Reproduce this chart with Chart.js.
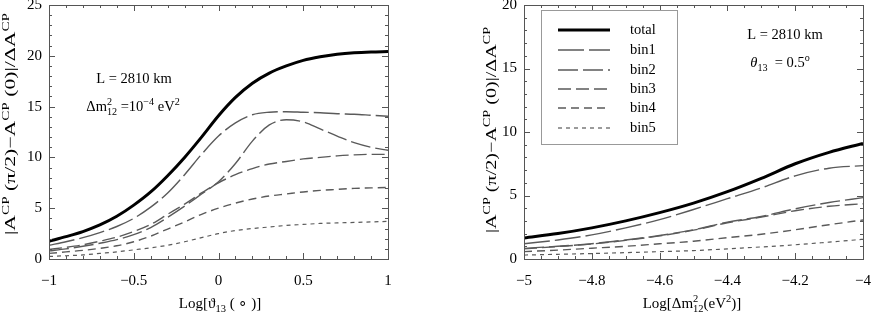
<!DOCTYPE html>
<html>
<head>
<meta charset="utf-8">
<script src="https://cdn.jsdelivr.net/npm/chart.js@4.4.1/dist/chart.umd.min.js"></script>
<style>
  html, body { margin: 0; padding: 0; background: #fff; }
  #wrap { position: relative; width: 872px; height: 315px; }
  canvas { position: absolute; top: 0; }
  #left { left: 0; }
  #right { left: 430px; }
</style>
</head>
<body>
<div id="wrap">
  <canvas id="left" width="430" height="315"></canvas>
  <canvas id="right" width="442" height="315"></canvas>
</div>
<script>
/* ===== Data ===== */

var seriesLabels = ['total', 'bin1', 'bin2', 'bin3', 'bin4', 'bin5'];

// left panel: Log[theta13]
var thetaLog = [-1, -0.9, -0.8, -0.7, -0.6, -0.5, -0.4, -0.3, -0.2, -0.1, 0,
                0.1, 0.2, 0.3, 0.4, 0.5, 0.6, 0.7, 0.8, 0.9, 1];
var totalA = [1.75, 2.2, 2.7, 3.35, 4.2, 5.3, 6.6, 8.2, 10.0, 12.0, 14.1,
              15.9, 17.3, 18.3, 19.0, 19.55, 19.9, 20.15, 20.3, 20.38, 20.42];
var bin1A = [1.35, 1.7, 2.1, 2.6, 3.2, 4.0, 5.1, 6.5, 8.3, 10.3, 12.1,
             13.4, 14.2, 14.45, 14.5, 14.45, 14.4, 14.3, 14.25, 14.15, 14.05];
var bin2A = [0.8, 1.0, 1.25, 1.55, 1.9, 2.4, 3.1, 4.1, 5.2, 6.4, 7.6,
             9.4, 11.6, 13.2, 13.7, 13.5, 12.8, 12.1, 11.45, 11.0, 10.7];
var bin3A = [0.95, 1.15, 1.4, 1.75, 2.15, 2.7, 3.4, 4.4, 5.4, 6.5, 7.5,
             8.3, 8.9, 9.35, 9.6, 9.85, 10.0, 10.15, 10.25, 10.3, 10.3];
var bin4A = [0.55, 0.7, 0.85, 1.05, 1.3, 1.7, 2.25, 2.95, 3.65, 4.4, 5.0,
             5.5, 5.9, 6.2, 6.4, 6.6, 6.75, 6.85, 6.95, 7.0, 7.05];
var bin5A = [0.25, 0.32, 0.4, 0.55, 0.7, 0.9, 1.1, 1.35, 1.7, 2.1, 2.5,
             2.8, 3.0, 3.15, 3.3, 3.4, 3.5, 3.55, 3.6, 3.65, 3.7];

// right panel: Log[dm12^2]
var dmLog = [-5, -4.9, -4.8, -4.7, -4.6, -4.5, -4.4, -4.3, -4.2, -4.1, -4];
var totalB = [1.65, 2.0, 2.45, 3.0, 3.65, 4.4, 5.3, 6.35, 7.5, 8.4, 9.1];
var bin1B = [1.2, 1.5, 1.9, 2.45, 3.1, 3.9, 4.75, 5.6, 6.55, 7.15, 7.35];
var bin2B = [0.84, 1.0, 1.2, 1.5, 1.85, 2.3, 2.9, 3.35, 3.95, 4.45, 4.83];
var bin3B = [0.8, 0.98, 1.18, 1.47, 1.82, 2.27, 2.85, 3.3, 3.8, 4.15, 4.35];
var bin4B = [0.58, 0.7, 0.85, 1.0, 1.2, 1.4, 1.68, 1.95, 2.3, 2.7, 3.07];
var bin5B = [0.31, 0.37, 0.43, 0.5, 0.58, 0.66, 0.8, 0.95, 1.12, 1.33, 1.55];

var xTicksA = [-1, -0.5, 0, 0.5, 1];
var yTicksA = [0, 5, 10, 15, 20, 25];
var xTicksB = [-5, -4.8, -4.6, -4.4, -4.2, -4];
var yTicksB = [0, 5, 10, 15, 20];

/* ===== Styles ===== */

var FONT = '"Liberation Serif", "Times New Roman", serif';
var lineStyles = [
    { color: '#000', width: 3, dash: [] },
    { color: '#5a5a5a', width: 1.4, dash: [26, 5] },
    { color: '#5a5a5a', width: 1.4, dash: [20, 5] },
    { color: '#5a5a5a', width: 1.4, dash: [13, 5] },
    { color: '#5a5a5a', width: 1.4, dash: [8, 5] },
    { color: '#5a5a5a', width: 1.2, dash: [4, 4] },
];

function makeDatasets(xs, series) {
    return series.map(function(ys, i) {
        var st = lineStyles[i];
        return {
            label: seriesLabels[i],
            data: xs.map(function(x, k) { return { x: x, y: ys[k] }; }),
            borderColor: st.color,
            borderWidth: st.width,
            borderDash: st.dash,
            pointRadius: 0,
            fill: false,
            cubicInterpolationMode: 'monotone',
            order: i === 0 ? 0 : 1,
        };
    });
}

function fmtTick(v) {
    return String(v).replace('-', '\u2212');
}

/* ===== Rich text (sub / superscripts) ===== */

function fontOf(size, it) {
    return (it ? 'italic ' : '') + size + 'px ' + FONT;
}

function richWidth(ctx, parts, size) {
    var w = 0;
    parts.forEach(function(p) {
        if (p.t) { ctx.font = fontOf(size, p.it); w += ctx.measureText(p.t).width; }
        var s = 0;
        ctx.font = fontOf(size * 0.7);
        if (p.sup) s = Math.max(s, ctx.measureText(p.sup).width);
        if (p.sub) s = Math.max(s, ctx.measureText(p.sub).width);
        w += s;
    });
    return w;
}

// x = center, y = baseline
function drawRich(ctx, parts, x, y, size) {
    var cx = x - richWidth(ctx, parts, size) / 2;
    ctx.textBaseline = 'alphabetic';
    ctx.textAlign = 'left';
    parts.forEach(function(p) {
        if (p.t) {
            ctx.font = fontOf(size, p.it);
            ctx.fillText(p.t, cx, y);
            cx += ctx.measureText(p.t).width;
        }
        ctx.font = fontOf(size * 0.7);
        var s = 0;
        if (p.sup) { ctx.fillText(p.sup, cx, y - size * 0.42); s = ctx.measureText(p.sup).width; }
        if (p.sub) { ctx.fillText(p.sub, cx, y + size * 0.25); s = Math.max(s, ctx.measureText(p.sub).width); }
        cx += s;
    });
}

var yTitle = [
    { t: '|A', sup: 'CP' }, { t: ' (\u03c0/2)\u2212A', sup: 'CP' },
    { t: ' (0)|/\u0394A', sup: 'CP' },
];

/* ===== Frame, ticks and text plugin ===== */

var decorPlugin = {
    id: 'decor',
    afterDraw: function(chart) {
        var o = chart.options.plugins.decor;
        var a = chart.chartArea, ctx = chart.ctx;
        var xs = chart.scales.x, ys = chart.scales.y;
        ctx.save();
        ctx.strokeStyle = '#555';
        ctx.lineWidth = 1;
        ctx.setLineDash([]);
        ctx.strokeRect(Math.round(a.left) + 0.5, Math.round(a.top) + 0.5,
            Math.round(a.right - a.left), Math.round(a.bottom - a.top));

        function seg(x1, y1, x2, y2) {
            ctx.beginPath(); ctx.moveTo(x1, y1); ctx.lineTo(x2, y2); ctx.stroke();
        }
        var n, i, v, p, len;
        n = Math.round((xs.max - xs.min) / o.xMinor);
        for (i = 0; i <= n; i++) {
            v = xs.min + i * o.xMinor;
            len = i % o.xEvery === 0 ? 6 : 3;
            p = Math.round(xs.getPixelForValue(v)) + 0.5;
            seg(p, a.bottom, p, a.bottom - len);
            seg(p, a.top, p, a.top + len);
        }
        n = Math.round((ys.max - ys.min) / o.yMinor);
        for (i = 0; i <= n; i++) {
            v = ys.min + i * o.yMinor;
            len = i % o.yEvery === 0 ? 6 : 3;
            p = Math.round(ys.getPixelForValue(v)) + 0.5;
            seg(a.left, p, a.left + len, p);
            seg(a.right, p, a.right - len, p);
        }

        ctx.fillStyle = '#000';
        // y title, stretched along its direction to the reference length
        ctx.save();
        ctx.translate(o.yTitleX, o.yTitleY);
        ctx.rotate(-Math.PI / 2);
        var nat = richWidth(ctx, yTitle, 15);
        ctx.scale(o.yTitleLen / nat, 1);
        drawRich(ctx, yTitle, 0, 0, 15);
        ctx.restore();
        // x title
        drawRich(ctx, o.xTitle, o.xTitleX, 308, 15);
        // annotations
        o.notes.forEach(function(nt) { drawRich(ctx, nt.parts, nt.x, nt.y, 14.5); });

        // legend
        if (o.legend) {
            var L = o.legend;
            ctx.strokeStyle = '#999';
            ctx.lineWidth = 1;
            ctx.strokeRect(L.left + 0.5, L.top + 0.5, L.w, L.h);
            chart.data.datasets.forEach(function(ds, k) {
                var yy = L.rows[k];
                ctx.strokeStyle = ds.borderColor;
                ctx.lineWidth = ds.borderWidth;
                ctx.setLineDash(ds.borderDash);
                seg(L.x1, yy, L.x2, yy);
                ctx.setLineDash([]);
                ctx.font = fontOf(14.5);
                ctx.textAlign = 'left';
                ctx.textBaseline = 'middle';
                ctx.fillText(ds.label, L.tx, yy);
            });
        }
        ctx.restore();
    }
};

function makeChart(canvasId, xs, series, cfg) {
    new Chart(document.getElementById(canvasId), {
        type: 'line',
        data: { datasets: makeDatasets(xs, series) },
        plugins: [decorPlugin],
        options: {
            responsive: false,
            animation: false,
            devicePixelRatio: 1,
            layout: { padding: { left: 0, right: cfg.padRight, top: 5, bottom: 0 } },
            plugins: {
                legend: { display: false },
                tooltip: { enabled: false },
                decor: cfg.decor,
            },
            scales: {
                x: {
                    type: 'linear',
                    min: cfg.xMin, max: cfg.xMax,
                    grid: { display: false, drawTicks: false },
                    border: { display: false },
                    afterBuildTicks: function(s) { s.ticks = cfg.xTicks.map(function(v) { return { value: v }; }); },
                    afterFit: function(s) { s.height = 56; s.paddingLeft = 0; s.paddingRight = 0; },
                    ticks: {
                        color: '#000', padding: 13, maxRotation: 0, autoSkip: false,
                        font: { family: FONT, size: 15 },
                        callback: fmtTick,
                    },
                },
                y: {
                    min: 0, max: cfg.yMax,
                    grid: { display: false, drawTicks: false },
                    border: { display: false },
                    afterBuildTicks: function(s) { s.ticks = cfg.yTicks.map(function(v) { return { value: v }; }); },
                    afterFit: function(s) { s.width = cfg.yWidth; s.paddingTop = 0; s.paddingBottom = 0; },
                    ticks: {
                        color: '#000', padding: 7, autoSkip: false,
                        font: { family: FONT, size: 15 },
                        callback: fmtTick,
                    },
                },
            },
        },
    });
}

/* ===== Left panel ===== */

makeChart('left', thetaLog, [totalA, bin1A, bin2A, bin3A, bin4A, bin5A], {
    xMin: -1, xMax: 1, yMax: 25, xTicks: xTicksA, yTicks: yTicksA,
    yWidth: 49, padRight: 42,
    decor: {
        xMinor: 0.1, xEvery: 5, yMinor: 1, yEvery: 5,
        yTitleX: 15, yTitleY: 124, yTitleLen: 222, xTitleX: 220,
        xTitle: [{ t: 'Log[\u03d1', sub: '13' }, { t: ' ( \u2218 )]' }],
        notes: [
            { x: 134, y: 83, parts: [{ t: 'L = 2810 km' }] },
            { x: 133, y: 111, parts: [{ t: '\u0394m', sup: '2', sub: '12' }, { t: ' =10', sup: '\u22124' }, { t: ' eV', sup: '2' }] },
        ],
        legend: null,
    },
});

/* ===== Right panel ===== */

makeChart('right', dmLog, [totalB, bin1B, bin2B, bin3B, bin4B, bin5B], {
    xMin: -5, xMax: -4, yMax: 20, xTicks: xTicksB, yTicks: yTicksB,
    yWidth: 94, padRight: 9,
    decor: {
        xMinor: 0.05, xEvery: 4, yMinor: 1, yEvery: 5,
        yTitleX: 66, yTitleY: 130, yTitleLen: 206, xTitleX: 262,
        xTitle: [{ t: 'Log[\u0394m', sup: '2', sub: '12' }, { t: '(eV', sup: '2' }, { t: ')]' }],
        notes: [
            { x: 355, y: 39, parts: [{ t: 'L = 2810 km' }] },
            { x: 350, y: 67, parts: [{ t: '\u03b8', it: true, sub: '13' }, { t: '  = 0.5', sup: 'o' }] },
        ],
        legend: {
            left: 111, top: 10, w: 136, h: 134,
            x1: 128, x2: 180, tx: 200,
            rows: [30, 50, 70, 89, 108, 128],
        },
    },
});
</script>
</body>
</html>
